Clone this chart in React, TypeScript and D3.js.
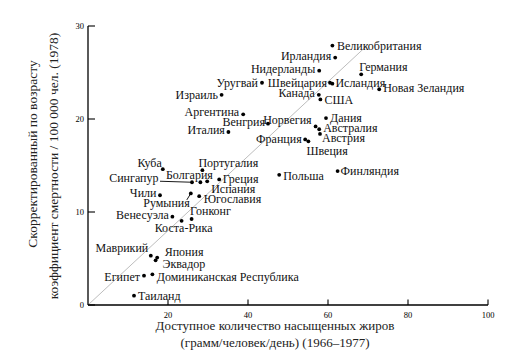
import React from "react";
import * as d3 from "d3";

const countries = [
  "Великобритания", "Ирландия", "Нидерланды", "Уругвай", "Швейцария", "Исландия",
  "Германия", "Новая Зеландия", "Израиль", "Канада", "США", "Аргентина", "Венгрия",
  "Норвегия", "Дания", "Австралия", "Австрия", "Франция", "Швеция", "Италия",
  "Португалия", "Польша", "Финляндия", "Греция", "Куба", "Сингапур", "Болгария",
  "Испания", "Чили", "Румыния", "Югославия", "Венесуэла", "Гонконг", "Коста-Рика",
  "Маврикий", "Япония", "Эквадор", "Египет", "Доминиканская Республика", "Таиланд",
];
const fatIntake = [
  61.1, 61.8, 57.8, 43.5, 60.5, 61.1,
  68.3, 72.8, 33.4, 57.7, 58.1, 38.8, 45.0,
  56.9, 59.5, 57.8, 58.0, 54.3, 55.1, 35.1,
  28.6, 47.8, 62.4, 32.8, 18.7, 26.0, 28.1,
  29.8, 18.0, 25.7, 27.8, 21.1, 25.9, 23.4,
  15.7, 17.3, 16.9, 14.0, 16.1, 11.5,
];
const mortality = [
  27.9, 26.6, 25.2, 23.9, 23.9, 23.8,
  24.8, 23.2, 22.6, 22.6, 22.1, 20.5, 19.5,
  19.2, 20.1, 18.9, 18.4, 17.8, 17.6, 18.6,
  14.5, 14.0, 14.4, 13.5, 14.6, 13.2, 13.2,
  13.3, 11.8, 12.0, 11.7, 9.5, 9.25, 9.05,
  5.3, 5.1, 4.8, 3.15, 3.3, 1.0,
];
const xTicks = [20, 40, 60, 80, 100];
const yTicks = [0, 10, 20, 30];
const trendLine = [[0, 0], [70, 28]];
const xTitle = ["Доступное количество насыщенных жиров", "(грамм/человек/день) (1966–1977)"];
const yTitle = ["Скорректированный по возрасту", "коэффициент смертности / 100 000 чел. (1978)"];

// label placement: [anchor, dx, dy]
const labelLayout: Record<string, [string, number, number]> = {
  "Великобритания": ["start", 4.5, 0],
  "Ирландия": ["end", -4, -1.5],
  "Нидерланды": ["end", -4, -1.5],
  "Уругвай": ["end", -4, 0],
  "Швейцария": ["end", -3, 0],
  "Исландия": ["start", 3, -1],
  "Германия": ["start", -2, -7],
  "Новая Зеландия": ["start", 4, -1],
  "Израиль": ["end", -3.5, 0],
  "Канада": ["end", -4, -1.5],
  "США": ["start", 4, 1],
  "Аргентина": ["end", -4, -2],
  "Венгрия": ["end", -3, -2],
  "Норвегия": ["end", -4, -6],
  "Дания": ["start", 4, 0],
  "Австралия": ["start", 4, -1.5],
  "Австрия": ["start", 2, 4.5],
  "Франция": ["end", -3.5, 0],
  "Швеция": ["start", -2, 9.5],
  "Италия": ["end", -3.5, -2],
  "Португалия": ["start", -4, -7.5],
  "Польша": ["start", 4, 1],
  "Финляндия": ["start", 3, -0.5],
  "Греция": ["start", 3.5, 0],
  "Куба": ["end", -1, -6],
  "Сингапур": ["end", -33.5, -4],
  "Болгария": ["middle", -11, -7.5],
  "Испания": ["start", 4, 8],
  "Чили": ["end", -3.5, -2.5],
  "Румыния": ["end", -1, 9.5],
  "Югославия": ["start", 4.5, 3],
  "Венесуэла": ["end", -3.5, -1.5],
  "Гонконг": ["start", -1.5, -8],
  "Коста-Рика": ["middle", 2, 7.5],
  "Маврикий": ["end", -2.5, -7.5],
  "Япония": ["start", 7.5, -6],
  "Эквадор": ["start", 7, 4],
  "Египет": ["end", -4, 1],
  "Доминиканская Республика": ["start", 4.4, 2.4],
  "Таиланд": ["start", 4, 0],
};
// leader lines: [x1 offset, y1 offset] from dot
const leaders: Record<string, [number, number]> = {
  "Сингапур": [-32, -1],
  "Румыния": [-4, 6.5],
};

const W = 524;
const H = 357;
const FONT = "'Liberation Serif', 'DejaVu Serif', serif";

export default function App() {
  const x = d3.scaleLinear().domain([0, 100]).range([88, 488]);
  const y = d3.scaleLinear().domain([0, 30]).range([305, 26]);
  const data = countries.map((c, i) => ({ c, fx: fatIntake[i], my: mortality[i] }));
  const line = d3.line<number[]>().x((d) => x(d[0])).y((d) => y(d[1]));

  return (
    <svg width={W} height={H} style={{ position: "absolute", left: 0, top: 0, background: "#fff" }} fontFamily={FONT}>
      <rect width={W} height={H} fill="#fff" />
      <path d={line(trendLine) || ""} stroke="#bdbdbd" strokeWidth={1} fill="none" />
      {/* axes */}
      <line x1={x(0)} x2={x(100)} y1={y(0)} y2={y(0)} stroke="#000" strokeWidth={1.3} />
      <line x1={x(0)} x2={x(0)} y1={y(0)} y2={y(30)} stroke="#000" strokeWidth={1.3} />
      {xTicks.map((t) => (
        <g key={"xt" + t}>
          <line x1={x(t)} x2={x(t)} y1={y(0)} y2={y(0) - 5.5} stroke="#000" strokeWidth={1.1} />
          <text x={x(t)} y={y(0) + 13} fontSize={8.5} textAnchor="middle">{t}</text>
        </g>
      ))}
      {yTicks.map((t) => (
        <g key={"yt" + t}>
          <line x1={x(0)} x2={x(0) + 7} y1={y(t)} y2={y(t)} stroke="#000" strokeWidth={1.1} />
          <text x={x(0) - 4} y={y(t)} fontSize={8.5} textAnchor="end" dominantBaseline="central">{t}</text>
        </g>
      ))}
      {/* leader lines */}
      {data.filter((d) => leaders[d.c]).map((d) => (
        <line key={"ld" + d.c} x1={x(d.fx) + leaders[d.c][0]} y1={y(d.my) + leaders[d.c][1]}
          x2={x(d.fx)} y2={y(d.my)} stroke="#000" strokeWidth={0.9} />
      ))}
      {/* points */}
      {data.map((d) => (
        <circle key={"p" + d.c} cx={x(d.fx)} cy={y(d.my)} r={1.9} fill="#000" />
      ))}
      {data.map((d) => {
        const [a, dx, dy] = labelLayout[d.c];
        return (
          <text key={"l" + d.c} x={x(d.fx) + dx} y={y(d.my) + dy} fontSize={12} textAnchor={a}
            dominantBaseline="central" fill="#111">{d.c}</text>
        );
      })}
      {/* titles */}
      <text x={275} y={325} fontSize={13} textAnchor="middle" dominantBaseline="central" fill="#222">{xTitle[0]}</text>
      <text x={275} y={342} fontSize={13} textAnchor="middle" dominantBaseline="central" fill="#222">{xTitle[1]}</text>
      <text transform="translate(32,154) rotate(-90)" fontSize={13.5} textAnchor="middle" dominantBaseline="central" fill="#222">{yTitle[0]}</text>
      <text transform="translate(53,166) rotate(-90)" fontSize={13.5} textAnchor="middle" dominantBaseline="central" fill="#222">{yTitle[1]}</text>
    </svg>
  );
}
